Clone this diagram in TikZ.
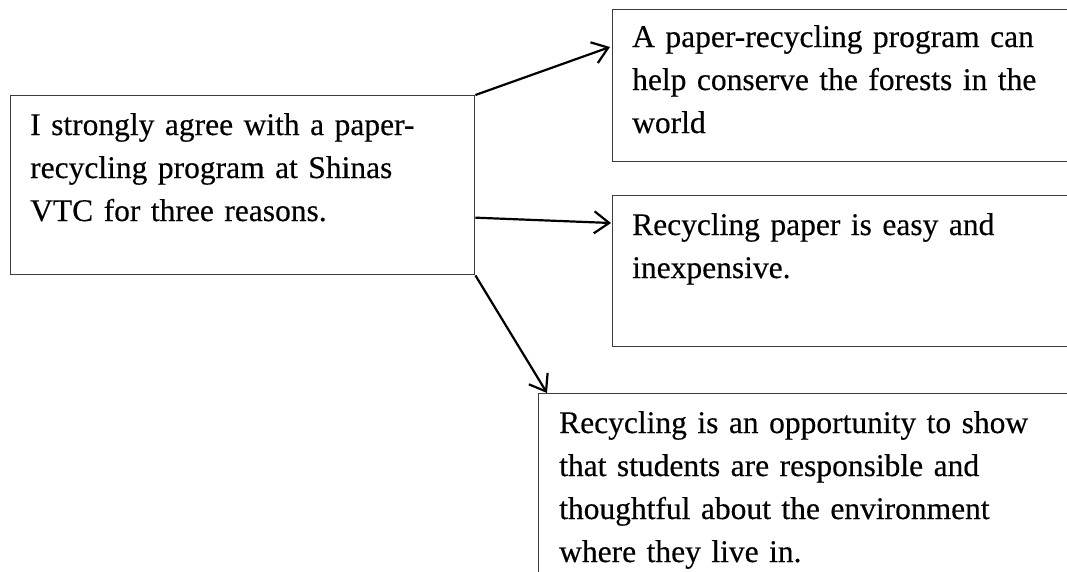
\documentclass[tikz,border=0pt]{standalone}
\usepackage{fontspec}
\setmainfont[FakeBold=0.35]{Liberation Serif}
\usetikzlibrary{arrows.meta,calc}
\definecolor{boxgray}{HTML}{3C3C3C}
\begin{document}
\begin{tikzpicture}[x=1pt,y=-1pt,
  box/.style={draw=boxgray, line width=1.4pt, rectangle, inner sep=0pt,
    anchor=north west},
  txt/.style={anchor=base west, inner sep=0pt, align=left, text width=480pt,
    font=\fontsize{31.5}{43}\selectfont},
  link/.style={draw=black, line width=2.2pt,
    -{Straight Barb[length=15pt,width=22pt]}}]
  \useasboundingbox (0,0) rectangle (1067,571);
  \clip (0,0) rectangle (1067,571);

  % central statement
  \node[box, minimum width=464pt, minimum height=179pt] (main) at (10,95) {};
  \node[txt] (maintxt) at (30,135)
    {I strongly agree with a paper-\\recycling program at Shinas\\VTC for three reasons.};

  % the three reasons
  \node[box, minimum width=480pt, minimum height=152pt] (r1) at (612,9) {};
  \node[txt] (r1txt) at (632,47)
    {A paper-recycling program can\\help conserve the forests in the\\world};

  \node[box, minimum width=480pt, minimum height=151pt] (r2) at (612,195) {};
  \node[txt] (r2txt) at (632,235)
    {Recycling paper is easy and\\inexpensive.};

  \node[box, minimum width=560pt, minimum height=220pt] (r3) at (538,393) {};
  \node[txt] (r3txt) at (559,433)
    {Recycling is an opportunity to show\\that students are responsible and\\thoughtful about the environment\\where they live in.};

  % connectors
  \draw[link] (main.north east) -- ([xshift=-2pt,yshift=-38pt]r1.north west);
  \draw[link] ($(main.north east)!0.68!(main.south east)$)
    -- ([xshift=-1pt,yshift=-28pt]r2.north west);
  \draw[link] (main.south east) -- ([xshift=9pt]r3.north west);
\end{tikzpicture}
\end{document}
